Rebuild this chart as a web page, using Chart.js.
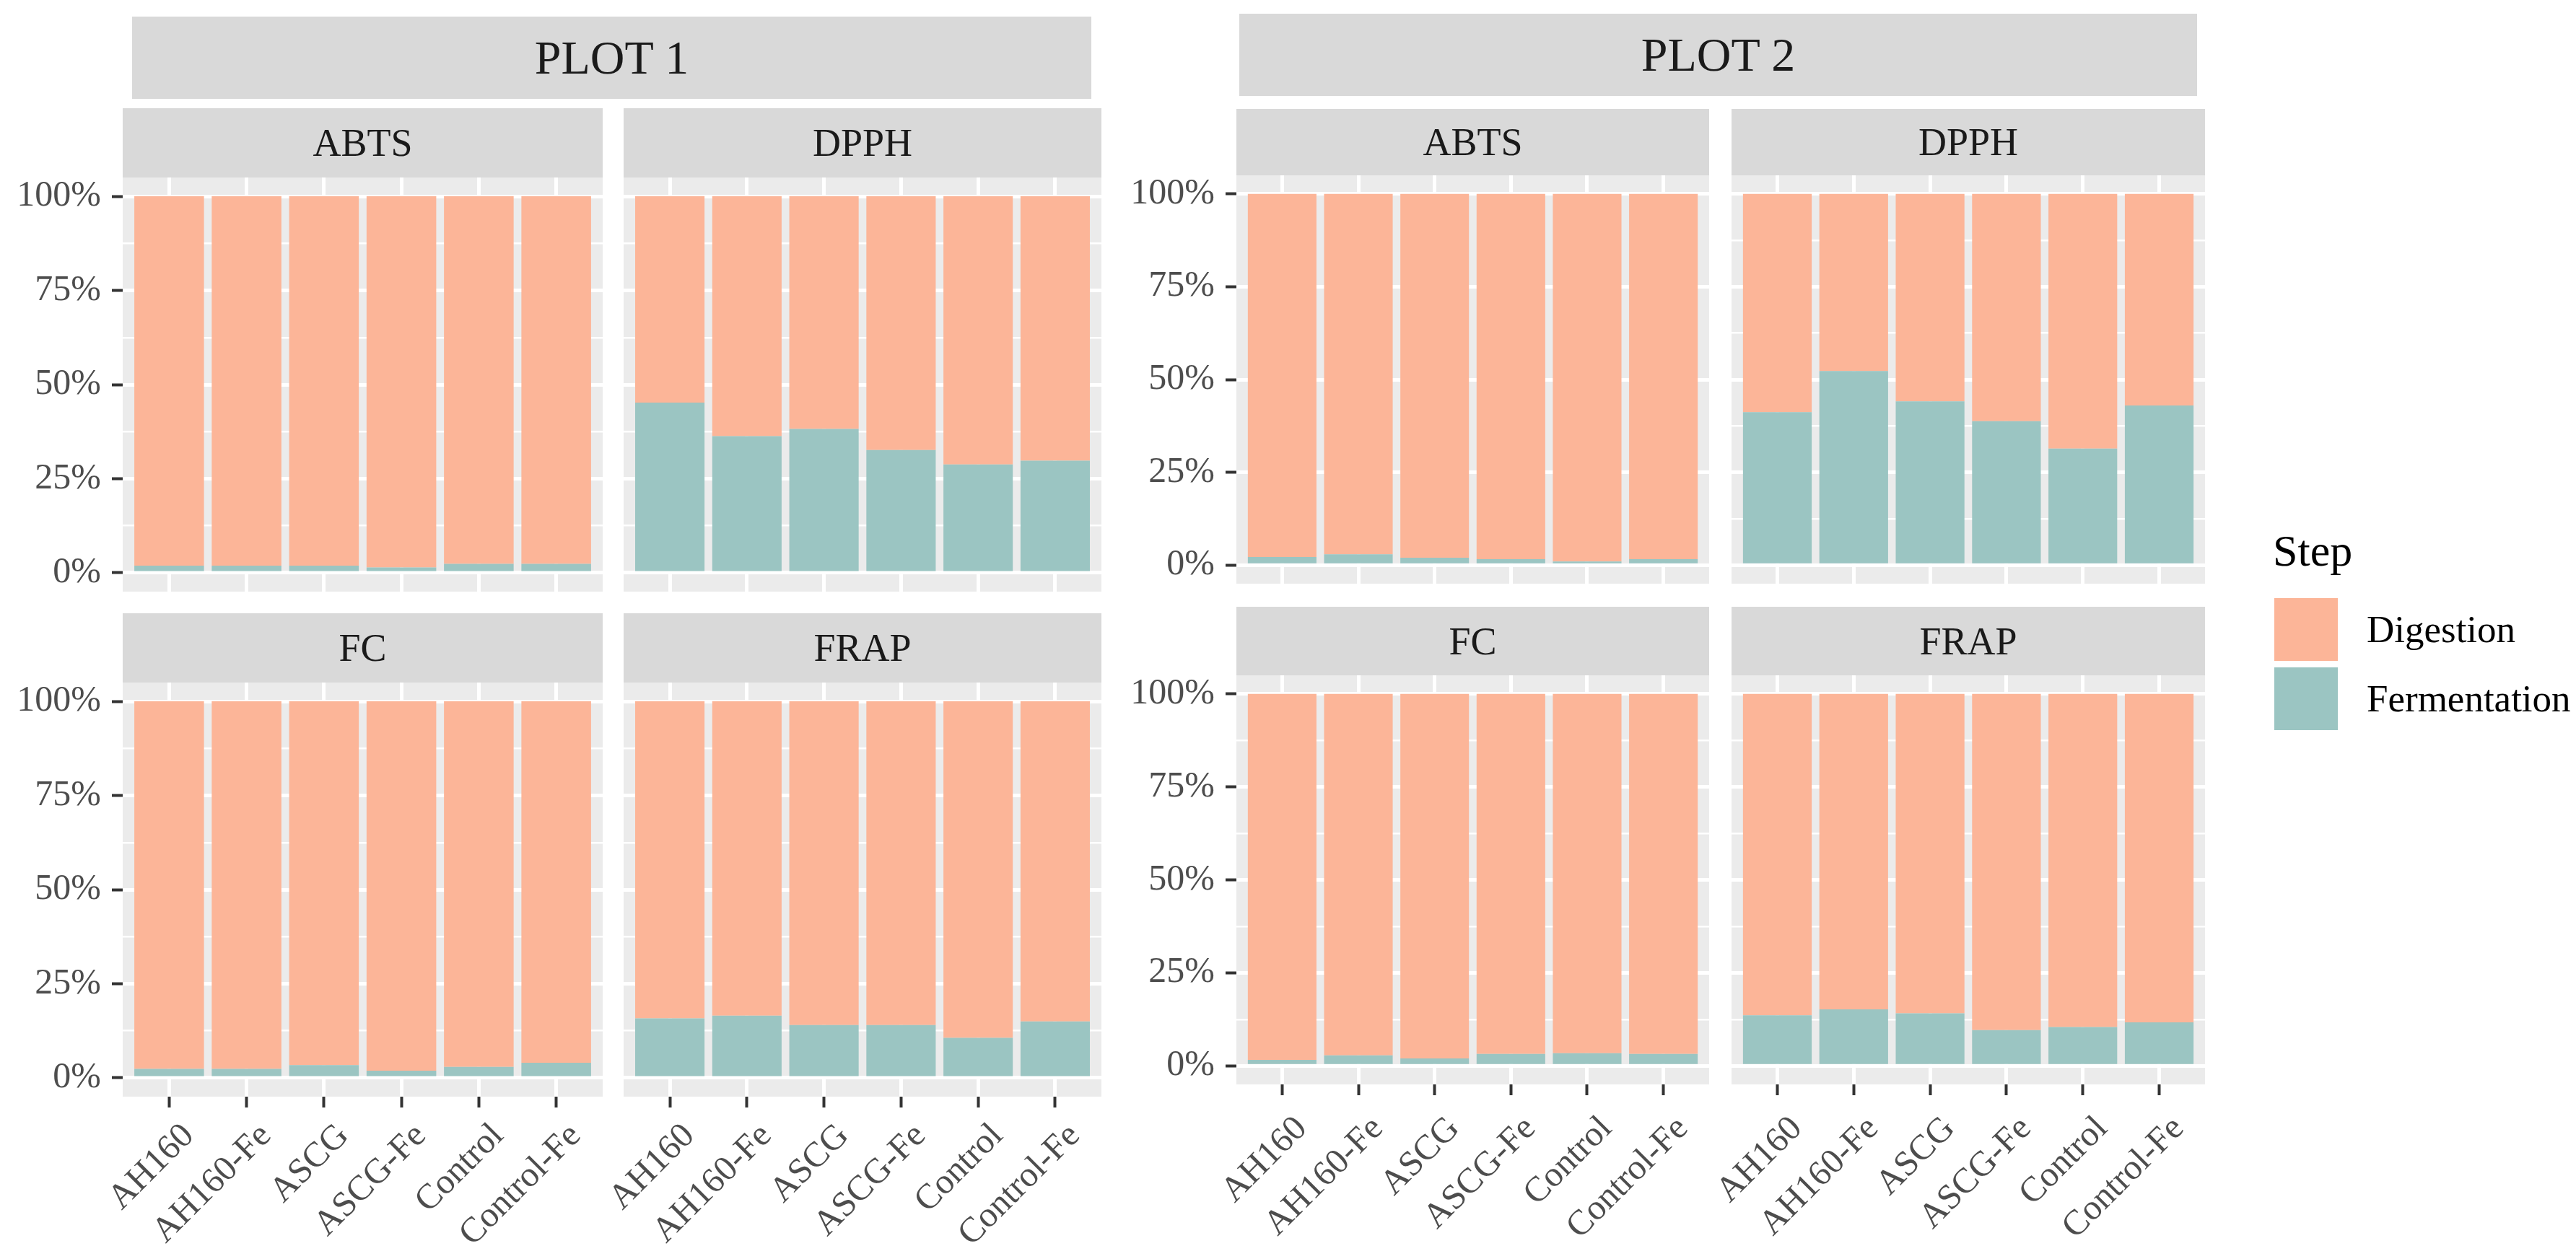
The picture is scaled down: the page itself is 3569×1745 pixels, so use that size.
<!DOCTYPE html>
<html>
<head>
<meta charset="utf-8">
<script src="https://cdn.jsdelivr.net/npm/chart.js@4.4.1/dist/chart.umd.min.js"></script>
<style>
html, body { margin: 0; padding: 0; background: #fff; }
body { width: 3569px; height: 1745px; position: relative; overflow: hidden; font-family: 'Liberation Serif', 'Times New Roman', serif; }
.strip { position: absolute; background: #D9D9D9; color: #1A1A1A; display: flex; align-items: center; justify-content: center; font-size: 54px; line-height: 1; }
.strip.title { font-size: 66px; }
canvas { position: absolute; }
.key { position: absolute; }
.legend-text { position: absolute; color: #000; line-height: 1; display: flex; align-items: center; }
</style>
</head>
<body>
<script>
'use strict';

var colorDigestion = 'rgb(252, 181, 152)'
var colorFermentation = 'rgb(155, 197, 194)'

const categories = ['AH160', 'AH160-Fe', 'ASCG', 'ASCG-Fe', 'Control', 'Control-Fe']
const steps = ['Digestion', 'Fermentation']
const yMajorTicks = [0, 25, 50, 75, 100]
const yMinorTicks = [12.5, 37.5, 62.5, 87.5]

// PLOT 1, share of each step in %
const p1AbtsFermentation = [1.9, 1.9, 1.9, 1.4, 2.4, 2.4]
const p1AbtsDigestion    = [98.1, 98.1, 98.1, 98.6, 97.6, 97.6]
const p1DpphFermentation = [45.2, 36.3, 38.2, 32.6, 28.8, 29.8]
const p1DpphDigestion    = [54.8, 63.7, 61.8, 67.4, 71.2, 70.2]
const p1FcFermentation   = [2.4, 2.4, 3.4, 1.9, 2.9, 4.0]
const p1FcDigestion      = [97.6, 97.6, 96.6, 98.1, 97.1, 96.0]
const p1FrapFermentation = [15.8, 16.5, 14.0, 14.0, 10.6, 15.0]
const p1FrapDigestion    = [84.2, 83.5, 86.0, 86.0, 89.4, 85.0]

// PLOT 2
const p2AbtsFermentation = [2.2, 2.9, 2.0, 1.6, 1.0, 1.6]
const p2AbtsDigestion    = [97.8, 97.1, 98.0, 98.4, 99.0, 98.4]
const p2DpphFermentation = [41.2, 52.3, 44.1, 38.8, 31.4, 43.0]
const p2DpphDigestion    = [58.8, 47.7, 55.9, 61.2, 68.6, 57.0]
const p2FcFermentation   = [1.6, 2.8, 2.0, 3.2, 3.4, 3.2]
const p2FcDigestion      = [98.4, 97.2, 98.0, 96.8, 96.6, 96.8]
const p2FrapFermentation = [13.6, 15.2, 14.1, 9.6, 10.4, 11.7]
const p2FrapDigestion    = [86.4, 84.8, 85.9, 90.4, 89.6, 88.3]

Chart.defaults.font.family = "'Liberation Serif', 'Times New Roman', serif"

var titles = [
    {text: 'PLOT 1', x: 183, y: 23, w: 1329, h: 114},
    {text: 'PLOT 2', x: 1717, y: 19, w: 1327, h: 114},
]

// x, y, w, h = panel area; stripTop = top of facet strip
var panels = [
    {name: 'ABTS', x: 170, y: 246, w: 665, h: 574, stripTop: 150, axisW: 170, axisH: 0, labelPad: 11, ferm: p1AbtsFermentation, dig: p1AbtsDigestion},
    {name: 'DPPH', x: 864, y: 246, w: 662, h: 574, stripTop: 150, axisW: 0, axisH: 0, labelPad: 11, ferm: p1DpphFermentation, dig: p1DpphDigestion},
    {name: 'FC', x: 170, y: 946, w: 665, h: 574, stripTop: 850, axisW: 170, axisH: 225, labelPad: 11, ferm: p1FcFermentation, dig: p1FcDigestion},
    {name: 'FRAP', x: 864, y: 946, w: 662, h: 574, stripTop: 850, axisW: 80, axisH: 225, labelPad: 11, ferm: p1FrapFermentation, dig: p1FrapDigestion},
    {name: 'ABTS', x: 1713, y: 243, w: 655, h: 566, stripTop: 151, axisW: 160, axisH: 0, labelPad: 18, ferm: p2AbtsFermentation, dig: p2AbtsDigestion},
    {name: 'DPPH', x: 2399, y: 243, w: 656, h: 566, stripTop: 151, axisW: 0, axisH: 0, labelPad: 18, ferm: p2DpphFermentation, dig: p2DpphDigestion},
    {name: 'FC', x: 1713, y: 936, w: 655, h: 567, stripTop: 841, axisW: 160, axisH: 242, labelPad: 18, ferm: p2FcFermentation, dig: p2FcDigestion},
    {name: 'FRAP', x: 2399, y: 936, w: 656, h: 567, stripTop: 841, axisW: 80, axisH: 242, labelPad: 18, ferm: p2FrapFermentation, dig: p2FrapDigestion},
]

const panelBackground = {
    id: 'panelBackground',
    beforeDraw(chart) {
        var a = chart.chartArea
        var ctx = chart.ctx
        ctx.save()
        ctx.fillStyle = '#EBEBEB'
        ctx.fillRect(a.left, a.top, a.right - a.left, a.bottom - a.top)
        ctx.restore()
    }
}

function addBox(cls, text, x, y, w, h) {
    var d = document.createElement('div')
    d.className = cls
    d.textContent = text
    d.style.left = x + 'px'
    d.style.top = y + 'px'
    d.style.width = w + 'px'
    d.style.height = h + 'px'
    document.body.appendChild(d)
    return d
}

function toPoints(values) {
    return values.map(function (v, i) { return {x: i + 1, y: v} })
}

function isMajor(v) {
    return yMajorTicks.indexOf(v) != -1
}

function initPanel(p) {
    addBox('strip', p.name, p.x, p.stripTop, p.w, p.y - p.stripTop)

    var canvas = document.createElement('canvas')
    canvas.width = p.w + p.axisW
    canvas.height = p.h + p.axisH
    canvas.style.left = (p.x - p.axisW) + 'px'
    canvas.style.top = p.y + 'px'
    document.body.appendChild(canvas)

    var showX = p.axisH > 0
    var showY = p.axisW > 100

    new Chart(canvas.getContext('2d'), {
        type: 'bar',
        data: {
            datasets: [{
                label: steps[1],
                data: toPoints(p.ferm),
                backgroundColor: colorFermentation,
            }, {
                label: steps[0],
                data: toPoints(p.dig),
                backgroundColor: colorDigestion,
            }]
        },
        options: {
            responsive: false,
            animation: false,
            devicePixelRatio: 1,
            layout: {padding: 0},
            barPercentage: 0.9,
            categoryPercentage: 1.0,
            borderWidth: 0,
            plugins: {
                legend: {display: false},
                tooltip: {enabled: false},
            },
            scales: {
                x: {
                    type: 'linear',
                    stacked: true,
                    offset: false,
                    min: 0.4,
                    max: 6.6,
                    border: {display: false},
                    grid: {
                        offset: false,
                        color: '#FFFFFF',
                        lineWidth: 5,
                        drawTicks: showX,
                        tickLength: 15,
                        tickColor: '#333333',
                        tickWidth: 4,
                    },
                    ticks: {
                        display: showX,
                        autoSkip: false,
                        minRotation: 45,
                        maxRotation: 45,
                        padding: p.labelPad,
                        labelOffset: 27,
                        color: '#4D4D4D',
                        font: {size: 49},
                        callback: function (v) { return categories[v - 1] },
                    },
                    afterBuildTicks: function (s) {
                        s.ticks = categories.map(function (c, i) { return {value: i + 1} })
                    },
                    afterFit: function (s) {
                        s.height = p.axisH
                        s.paddingLeft = 0
                        s.paddingRight = 0
                    },
                },
                y: {
                    stacked: true,
                    min: -5,
                    max: 105,
                    border: {display: false},
                    grid: {
                        color: '#FFFFFF',
                        lineWidth: function (c) { return c.tick && isMajor(c.tick.value) ? 5 : 2.5 },
                        drawTicks: showY,
                        tickLength: 15,
                        tickColor: function (c) { return c.tick && isMajor(c.tick.value) ? '#333333' : 'rgba(0,0,0,0)' },
                        tickWidth: 4,
                    },
                    ticks: {
                        display: showY,
                        padding: 15,
                        color: '#4D4D4D',
                        font: {size: 50},
                        callback: function (v) { return isMajor(v) ? v + '%' : '' },
                    },
                    afterBuildTicks: function (s) {
                        s.ticks = yMajorTicks.concat(yMinorTicks).sort(function (a, b) { return a - b }).map(function (v) { return {value: v} })
                    },
                    afterFit: function (s) {
                        s.width = p.axisW
                        s.paddingTop = 0
                        s.paddingBottom = 0
                    },
                },
            },
        },
        plugins: [panelBackground],
    })
}

function initLegend() {
    var title = addBox('legend-text', 'Step', 3149, 728, 300, 70)
    title.style.fontSize = '62px'

    var keyColors = [colorDigestion, colorFermentation]
    var keyTops = [829, 925]
    for (var i = 0; i < steps.length; i++) {
        var k = addBox('key', '', 3151, keyTops[i], 88, 87)
        k.style.background = keyColors[i]
        var t = addBox('legend-text', steps[i], 3279, keyTops[i], 300, 87)
        t.style.fontSize = '53px'
    }
}

for (var t of titles) {
    addBox('strip title', t.text, t.x, t.y, t.w, t.h)
}
for (var p of panels) {
    initPanel(p)
}
initLegend()
</script>
</body>
</html>
